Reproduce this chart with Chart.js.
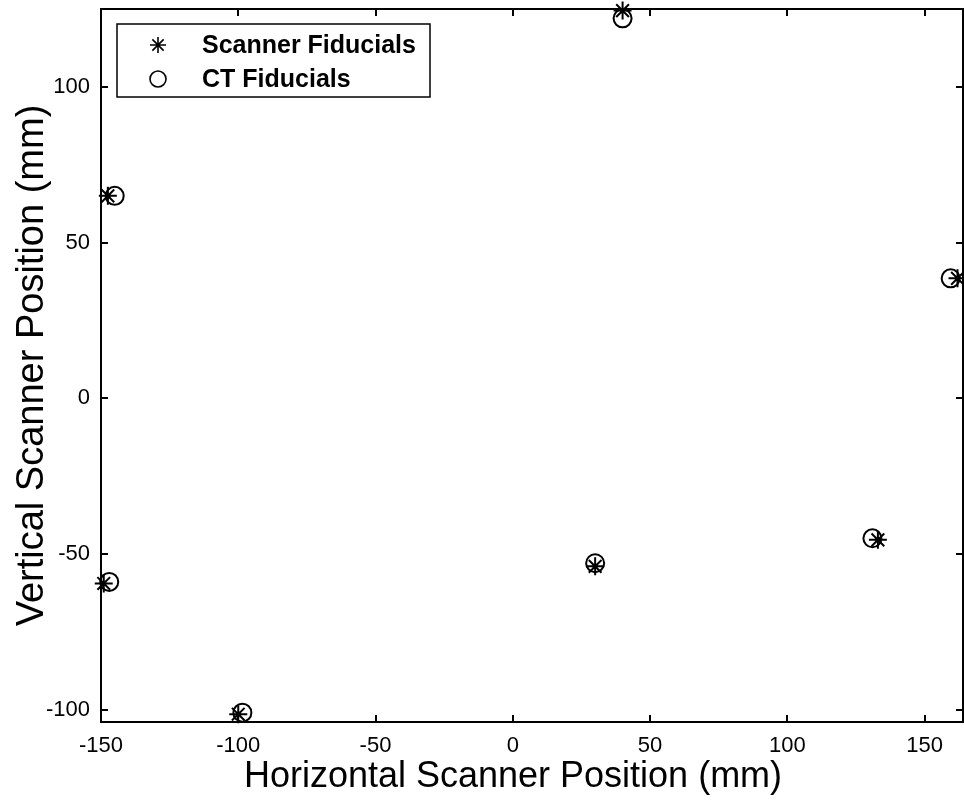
<!DOCTYPE html>
<html>
<head>
<meta charset="utf-8">
<script src="https://cdn.jsdelivr.net/npm/chart.js@4/dist/chart.umd.min.js"></script>
<style>
  html, body { margin: 0; padding: 0; background: #fff; }
  #wrap { width: 964px; height: 802px; }
</style>
</head>
<body>
<div id="wrap"><canvas id="chart" width="964" height="802"></canvas></div>
<script>
// Fiducial positions (mm)
const scannerX = [-147.5, 40, 162, -149, -100, 30, 133];
const scannerY = [65, 124.5, 38.5, -59.5, -101.5, -54, -45.5];
const ctX = [-145, 40, 159.5, -147, -98.5, 30, 131];
const ctY = [65, 122, 38.5, -59, -101, -53, -45];

const seriesLabels = ['Scanner Fiducials', 'CT Fiducials'];
const xTicks = [-150, -100, -50, 0, 50, 100, 150];
const yTicks = [-100, -50, 0, 50, 100];
const xTitle = 'Horizontal Scanner Position (mm)';
const yTitle = 'Vertical Scanner Position (mm)';

const FONT = '"Liberation Sans", Arial, Helvetica, sans-serif';

function toPoints(xs, ys) {
  return xs.map((x, i) => ({ x: x, y: ys[i] }));
}

// Box, inward ticks, axis titles and the legend, MATLAB style
const framePlugin = {
  id: 'frame',
  afterDraw(chart) {
    const ctx = chart.ctx;
    const a = chart.chartArea;
    const xs = chart.scales.x;
    const ys = chart.scales.y;
    const tick = 7;

    ctx.save();
    ctx.strokeStyle = '#000';
    ctx.lineWidth = 2;
    ctx.strokeRect(a.left, a.top, a.right - a.left, a.bottom - a.top);

    ctx.beginPath();
    xTicks.forEach(v => {
      const px = Math.round(xs.getPixelForValue(v));
      ctx.moveTo(px, a.bottom); ctx.lineTo(px, a.bottom - tick);
      ctx.moveTo(px, a.top); ctx.lineTo(px, a.top + tick);
    });
    yTicks.forEach(v => {
      const py = Math.round(ys.getPixelForValue(v));
      ctx.moveTo(a.left, py); ctx.lineTo(a.left + tick, py);
      ctx.moveTo(a.right, py); ctx.lineTo(a.right - tick, py);
    });
    ctx.stroke();

    // axis titles
    ctx.fillStyle = '#000';
    ctx.textAlign = 'center';
    ctx.textBaseline = 'alphabetic';
    ctx.font = '36px ' + FONT;
    ctx.fillText(xTitle, 513, 787);
    ctx.save();
    ctx.font = '38px ' + FONT;
    ctx.translate(43, (a.top + a.bottom) / 2);
    ctx.rotate(-Math.PI / 2);
    ctx.fillText(yTitle, 0, 0);
    ctx.restore();

    // legend
    const lx = 117, ly = 24, lw = 313, lh = 73;
    ctx.fillStyle = '#fff';
    ctx.fillRect(lx, ly, lw, lh);
    ctx.lineWidth = 1.5;
    ctx.strokeRect(lx, ly, lw, lh);
    const rows = [45, 79];
    chart.data.datasets.forEach((ds, i) => {
      ctx.strokeStyle = '#000';
      ctx.fillStyle = 'rgba(0,0,0,0)';
      ctx.lineWidth = ds.borderWidth - 0.4;
      Chart.helpers.drawPoint(ctx, {
        pointStyle: ds.pointStyle,
        radius: ds.pointRadius - 1,
        borderWidth: ds.borderWidth - 0.4,
        rotation: 0
      }, 158, rows[i]);
      ctx.fillStyle = '#000';
      ctx.font = 'bold 25px ' + FONT;
      ctx.textAlign = 'left';
      ctx.textBaseline = 'middle';
      ctx.fillText(ds.label, 202, rows[i] + 1);
    });
    ctx.restore();
  }
};

const ctx = document.getElementById('chart').getContext('2d');

new Chart(ctx, {
  type: 'scatter',
  data: {
    datasets: [{
      label: seriesLabels[0],
      data: toPoints(scannerX, scannerY),
      pointStyle: 'star',
      pointRadius: 9,
      borderWidth: 2,
      borderColor: '#000',
      backgroundColor: '#000',
      clip: false
    }, {
      label: seriesLabels[1],
      data: toPoints(ctX, ctY),
      pointStyle: 'circle',
      pointRadius: 9,
      borderWidth: 2,
      borderColor: '#000',
      backgroundColor: 'rgba(0,0,0,0)',
      clip: false
    }]
  },
  options: {
    responsive: false,
    animation: false,
    devicePixelRatio: 1,
    layout: {
      autoPadding: false,
      padding: { left: 0, right: 1, top: 9, bottom: 0 }
    },
    plugins: {
      legend: { display: false },
      tooltip: { enabled: false }
    },
    scales: {
      x: {
        type: 'linear',
        min: -150,
        max: 164,
        grid: { display: false, drawTicks: false },
        border: { display: false },
        afterBuildTicks: scale => { scale.ticks = xTicks.map(v => ({ value: v })); },
        afterFit: scale => {
          scale.height = 80;
          scale.paddingLeft = 0;
          scale.paddingRight = 0;
        },
        ticks: {
          color: '#000',
          padding: 11,
          maxRotation: 0,
          font: { family: FONT, size: 22 }
        }
      },
      y: {
        type: 'linear',
        min: -104,
        max: 125,
        grid: { display: false, drawTicks: false },
        border: { display: false },
        afterBuildTicks: scale => { scale.ticks = yTicks.map(v => ({ value: v })); },
        afterFit: scale => {
          scale.width = 101;
          scale.paddingTop = 0;
          scale.paddingBottom = 0;
        },
        ticks: {
          color: '#000',
          padding: 11,
          font: { family: FONT, size: 22 }
        }
      }
    }
  },
  plugins: [framePlugin]
});
</script>
</body>
</html>
